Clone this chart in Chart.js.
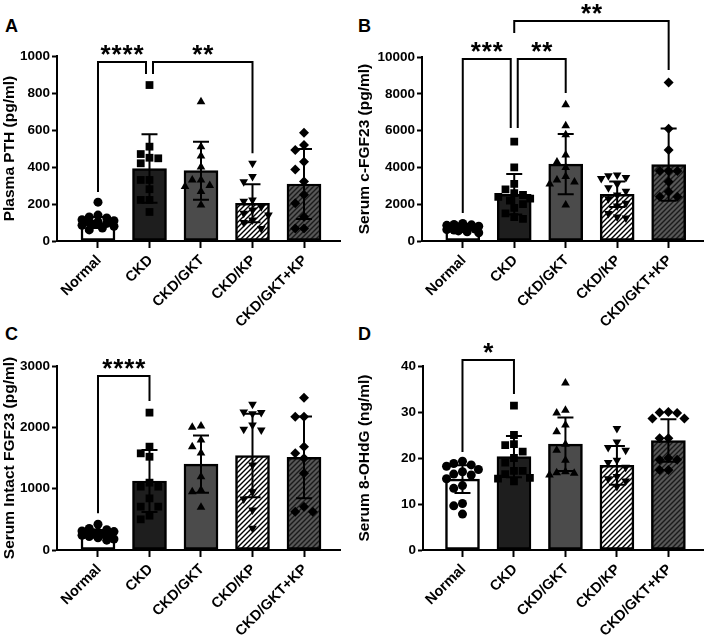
<!DOCTYPE html>
<html>
<head>
<meta charset="utf-8">
<script src="https://cdn.jsdelivr.net/npm/chart.js@4"></script>
<style>
  body { margin: 0; background: #fff; width: 709px; height: 636px; position: relative; overflow: hidden; }
  .panel { position: absolute; }
  .letter { position: absolute; font: bold 18px "Liberation Sans", Arial, sans-serif; line-height: 18px; color: #000; }
</style>
</head>
<body>
<div class="letter" style="left:5px;top:17px">A</div>
<div class="letter" style="left:358px;top:17px">B</div>
<div class="letter" style="left:5px;top:325px">C</div>
<div class="letter" style="left:358px;top:325px">D</div>

<canvas id="pA" class="panel" style="left:0;top:0" width="355" height="330"></canvas>
<canvas id="pB" class="panel" style="left:355px;top:0" width="354" height="330"></canvas>
<canvas id="pC" class="panel" style="left:0;top:310px" width="355" height="326"></canvas>
<canvas id="pD" class="panel" style="left:355px;top:310px" width="354" height="326"></canvas>

<script>
// groups
const groups = ['Normal', 'CKD', 'CKD/GKT', 'CKD/KP', 'CKD/GKT+KP'];

// A - plasma PTH (pg/ml)
const pthMean = [100, 392, 380, 204, 308];
const pthSD = [30, 185, 157, 103, 189];
const pthPoints = [
    [210, 140, 130, 125, 115, 110, 105, 100, 95, 90, 85, 80, 70, 60],
    [843, 510, 470, 447, 450, 420, 330, 330, 280, 222, 222, 157],
    [753, 510, 460, 400, 330, 330, 294, 300, 267, 195],
    [420, 348, 320, 222, 215, 185, 168, 150, 140, 113, 100, 68],
    [585, 519, 492, 429, 387, 321, 250, 204, 131, 68, 68]
];
// [from, to, bracket top, left leg end, right leg end, stars]
const pthSig = [[0, 1, 968, 265, 903, 4], [1, 3, 968, 903, 474, 2]];

// B - serum c-FGF23 (pg/ml)
const cfgfMean = [700, 2540, 4175, 2540, 4150];
const cfgfSD = [170, 1100, 1640, 690, 1960];
const cfgfPoints = [
    [950, 900, 880, 850, 800, 780, 750, 700, 680, 650, 620, 600, 550, 500, 450],
    [5400, 4000, 3100, 2800, 2600, 2500, 2400, 2300, 2200, 2000, 1800, 1500, 1300, 1200],
    [7400, 6260, 5770, 4680, 4300, 4000, 3320, 3500, 3200, 3100, 1960],
    [3590, 3550, 3450, 3400, 3100, 2900, 2700, 2500, 2300, 2050, 1900, 1500, 1250, 1300],
    [8620, 6100, 4950, 3800, 3800, 3800, 3220, 2680, 2400, 2400]
];
const cfgfSig = [[0, 1, 9890, 1520, 6140, 3], [1, 2, 9890, 6140, 8040, 2], [1, 4, 11960, 11300, 9290, 2]];

// C - serum intact FGF23 (pg/ml)
const ifgfMean = [260, 1125, 1400, 1540, 1510];
const ifgfSD = [60, 505, 465, 680, 665];
const ifgfPoints = [
    [420, 350, 330, 310, 300, 290, 280, 270, 260, 250, 240, 220, 200, 180, 160],
    [2240, 1685, 1520, 1576, 1098, 1033, 1033, 842, 707, 707, 560, 500],
    [2022, 2000, 1793, 1685, 1580, 1196, 978, 950, 696],
    [2375, 2250, 2220, 2240, 1967, 2038, 1957, 1386, 951, 831, 652, 353],
    [2484, 2174, 2174, 1685, 1576, 1495, 1250, 707, 625, 625]
];
const ifgfSig = [[0, 1, 2837, 600, 2430, 4]];

// D - serum 8-OHdG (ng/ml)
const ohdgMean = [15.4, 20.3, 23.0, 18.4, 23.8];
const ohdgSD = [3.0, 4.5, 5.8, 4.2, 4.6];
const ohdgPoints = [
    [19.3, 18.8, 18.5, 18.2, 17.5, 17, 16.3, 16.5, 15.5, 14, 13.4, 10.1, 9.6, 7.8],
    [31.4, 25, 23, 22.8, 21.4, 20, 19, 17.2, 17.2, 16.5, 15.7, 15.5, 14.9],
    [36.3, 30.4, 29.8, 27.2, 25.7, 23, 21.7, 19.5, 17, 16.8, 16.7, 16.3],
    [26.4, 23.5, 22.3, 21.7, 19.5, 19, 18, 16, 15.5, 15, 13.8],
    [29.9, 30, 29.8, 28.6, 28.6, 24.3, 24.3, 20, 19.6, 19.6, 17.4, 17.4]
];
const ohdgSig = [[0, 1, 41.3, 21.3, 33.9, 1]];

const FONT = '"Liberation Sans", Arial, sans-serif';

function hatch(bg, fg) {
    const s = 5;
    const c = document.createElement('canvas');
    c.width = c.height = s;
    const g = c.getContext('2d');
    g.fillStyle = bg;
    g.fillRect(0, 0, s, s);
    g.strokeStyle = fg;
    g.lineWidth = 1.4;
    g.beginPath();
    g.moveTo(0, s); g.lineTo(s, 0);
    g.moveTo(-1, 1); g.lineTo(1, -1);
    g.moveTo(s - 1, s + 1); g.lineTo(s + 1, s - 1);
    g.stroke();
    return g.createPattern(c, 'repeat');
}

const barFills = ['#ffffff', '#1e1e1e', '#4b4b4b', hatch('#ffffff', '#000000'), hatch('#585858', '#1a1a1a')];
const markers = [
    { style: 'circle', r: 4.5, rot: 0 },
    { style: 'rect', r: 5.5, rot: 0 },
    { style: 'triangle', r: 5, rot: 0 },
    { style: 'triangle', r: 5, rot: 180 },
    { style: 'rectRot', r: 5, rot: 0 }
];

// spread the dots sideways so they do not sit on top of each other (like a scatter dot plot)
function spread(vals, yMax) {
    const pxPerUnit = 184 / yMax, catPx = 51.7, minD = 8.5;
    const cands = [0, -0.17, 0.17, -0.31, 0.31, -0.085, 0.085, -0.24, 0.24];
    const order = vals.map((v, i) => i).sort((a, b) => vals[b] - vals[a]);
    const off = new Array(vals.length).fill(0);
    const placed = [];
    for (const i of order) {
        let best = 0, bestD = -1;
        for (const c of cands) {
            let d = Infinity;
            placed.forEach(p => {
                d = Math.min(d, Math.hypot((p.o - c) * catPx, (p.v - vals[i]) * pxPerUnit));
            });
            if (d >= minD) { best = c; bestD = d; break; }
            if (d > bestD) { best = c; bestD = d; }
        }
        off[i] = best;
        placed.push({ o: best, v: vals[i] });
    }
    return off;
}

const errorBars = {
    id: 'errorBars',
    afterDatasetsDraw(chart, args, opts) {
        const { ctx, scales: { x, y } } = chart;
        ctx.save();
        ctx.strokeStyle = '#000';
        ctx.lineWidth = 2;
        opts.means.forEach((m, i) => {
            const px = x.getPixelForValue(i);
            const hi = y.getPixelForValue(m + opts.sd[i]);
            const lo = y.getPixelForValue(m - opts.sd[i]);
            ctx.beginPath();
            ctx.moveTo(px, hi); ctx.lineTo(px, lo);
            ctx.moveTo(px - 8, hi); ctx.lineTo(px + 8, hi);
            ctx.moveTo(px - 8, lo); ctx.lineTo(px + 8, lo);
            ctx.stroke();
        });
        ctx.restore();
    }
};

// rotated group names under the x axis, ending at the tick like in Prism
const groupLabels = {
    id: 'groupLabels',
    afterDraw(chart) {
        const { ctx, scales: { x } } = chart;
        ctx.save();
        ctx.fillStyle = '#000';
        ctx.font = 'bold 14.5px ' + FONT;
        ctx.textAlign = 'right';
        ctx.textBaseline = 'middle';
        groups.forEach((g, i) => {
            ctx.save();
            ctx.translate(x.getPixelForValue(i) + 1, x.top + 17);
            ctx.rotate(-Math.PI / 4);
            ctx.fillText(g, 0, 0);
            ctx.restore();
        });
        ctx.restore();
    }
};

const brackets = {
    id: 'brackets',
    afterDraw(chart, args, opts) {
        const { ctx, scales: { x, y } } = chart;
        const list = opts.list;
        // a leg is nudged aside when another bracket has a leg on the same bar at the same height
        const shared = (k, idx, lo, hi) => list.some((o, j) => {
            if (j === k) return false;
            const legs = [];
            if (o[0] === idx) legs.push(o[3]);
            if (o[1] === idx) legs.push(o[4]);
            return legs.some(l => l <= hi && lo <= o[2]);
        });
        ctx.save();
        ctx.strokeStyle = '#000';
        ctx.fillStyle = '#000';
        ctx.lineWidth = 2;
        list.forEach((b, k) => {
            const [a, c, top, legA, legC, n] = b;
            const xa = x.getPixelForValue(a) + (shared(k, a, legA, top) ? 3.5 : 0);
            const xc = x.getPixelForValue(c) - (shared(k, c, legC, top) ? 3.5 : 0);
            const yt = y.getPixelForValue(top);
            ctx.beginPath();
            ctx.moveTo(xa, y.getPixelForValue(legA));
            ctx.lineTo(xa, yt);
            ctx.lineTo(xc, yt);
            ctx.lineTo(xc, y.getPixelForValue(legC));
            ctx.stroke();
            ctx.font = 'bold 26px ' + FONT;
            ctx.textAlign = 'center';
            ctx.textBaseline = 'alphabetic';
            const mid = (xa + xc) / 2;
            for (let s = 0; s < n; s++) {
                ctx.fillText('*', mid + (s - (n - 1) / 2) * 11, yt + 1);
            }
        });
        ctx.restore();
    }
};

function drawPanel(id, cfg) {
    const canvas = document.getElementById(id);
    const W = canvas.width, H = canvas.height;
    const datasets = [{
        type: 'bar',
        data: cfg.means.map((m, i) => ({ x: i, y: m })),
        backgroundColor: barFills,
        borderColor: '#000',
        borderWidth: 2.5,
        borderSkipped: false,
        barThickness: 34,
        order: 2
    }];
    cfg.points.forEach((vals, g) => {
        const off = spread(vals, cfg.yMax);
        datasets.push({
            type: 'scatter',
            data: vals.map((v, k) => ({ x: g + off[k], y: v })),
            pointStyle: markers[g].style,
            pointRadius: markers[g].r,
            rotation: markers[g].rot,
            backgroundColor: '#000',
            borderColor: '#000',
            borderWidth: 0,
            order: 1
        });
    });

    new Chart(canvas, {
        data: { datasets },
        plugins: [errorBars, brackets, groupLabels],
        options: {
            responsive: false,
            devicePixelRatio: 1,
            animation: false,
            layout: { padding: { left: 0, top: cfg.top, right: W - cfg.right, bottom: 0 } },
            scales: {
                x: {
                    type: 'linear',
                    offset: false,
                    min: cfg.xMin,
                    max: cfg.xMax,
                    afterBuildTicks(s) { s.ticks = groups.map((g, i) => ({ value: i })); },
                    afterFit(s) { s.height = H - cfg.bottom; },
                    ticks: { display: false },
                    grid: { offset: false, drawOnChartArea: false, drawTicks: true, tickLength: 7, tickColor: '#000', tickWidth: 2 },
                    border: { color: '#000', width: 2 }
                },
                y: {
                    min: 0,
                    max: cfg.yMax,
                    afterFit(s) { s.width = cfg.axisX; },
                    ticks: {
                        stepSize: cfg.yStep,
                        callback: v => String(v),
                        color: '#000',
                        padding: 2,
                        font: { family: FONT, size: 13.5, weight: 'bold' }
                    },
                    grid: { drawOnChartArea: false, drawTicks: true, tickLength: 5, tickColor: '#000', tickWidth: 2 },
                    border: { color: '#000', width: 2 },
                    title: {
                        display: true,
                        text: cfg.title,
                        color: '#000',
                        padding: 0,
                        font: { family: FONT, size: 15.5, weight: 'bold' }
                    }
                }
            },
            plugins: {
                legend: { display: false },
                tooltip: { enabled: false },
                errorBars: { means: cfg.means, sd: cfg.sd },
                brackets: { list: cfg.sig }
            }
        }
    });
}

drawPanel('pA', {
    title: 'Plasma PTH (pg/ml)', yMax: 1000, yStep: 200,
    means: pthMean, sd: pthSD, points: pthPoints, sig: pthSig,
    axisX: 57, right: 340, top: 56, bottom: 241, xMin: -0.796, xMax: 4.699
});
drawPanel('pB', {
    title: 'Serum c-FGF23 (pg/ml)', yMax: 10000, yStep: 2000,
    means: cfgfMean, sd: cfgfSD, points: cfgfPoints, sig: cfgfSig,
    axisX: 67, right: 350, top: 57, bottom: 241, xMin: -0.792, xMax: 4.677
});
drawPanel('pC', {
    title: 'Serum Intact FGF23 (pg/ml)', yMax: 3000, yStep: 1000,
    means: ifgfMean, sd: ifgfSD, points: ifgfPoints, sig: ifgfSig,
    axisX: 57, right: 340, top: 56, bottom: 240, xMin: -0.796, xMax: 4.699
});
drawPanel('pD', {
    title: 'Serum 8-OHdG (ng/ml)', yMax: 40, yStep: 10,
    means: ohdgMean, sd: ohdgSD, points: ohdgPoints, sig: ohdgSig,
    axisX: 68, right: 350, top: 56, bottom: 240, xMin: -0.767, xMax: 4.682
});
</script>
</body>
</html>
